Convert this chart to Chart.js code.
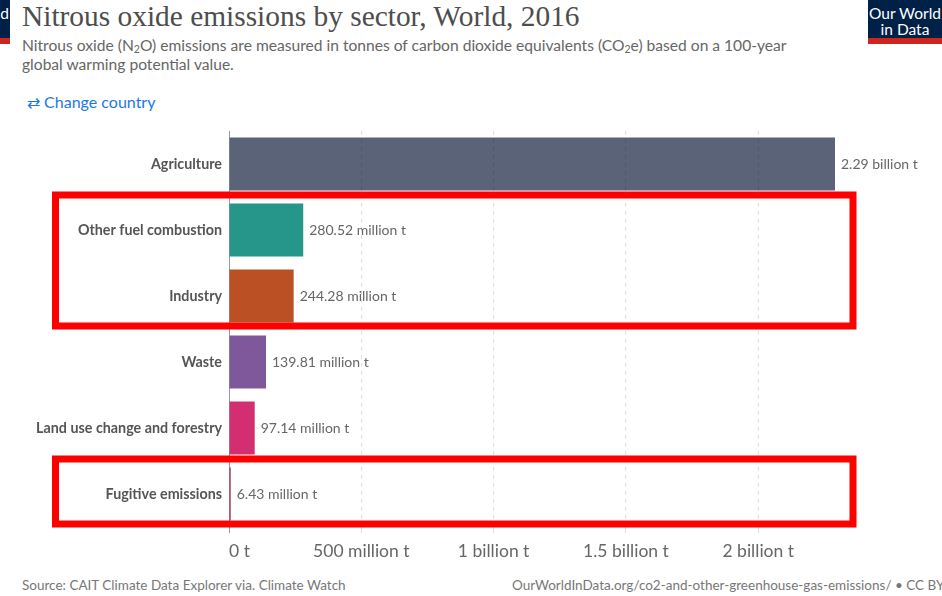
<!DOCTYPE html>
<html>
<head>
<meta charset="utf-8">
<title>Nitrous oxide emissions by sector</title>
<script src="https://cdn.jsdelivr.net/npm/chart.js@4.4.1/dist/chart.umd.min.js"></script>
<style>
  html, body { margin: 0; padding: 0; background: #fff; }
  body { width: 942px; height: 596px; position: relative; overflow: hidden; font-family: Lato, "Noto Sans", sans-serif; }
  .title { position: absolute; left: 22px; top: 0px; font-family: "Liberation Serif", "DejaVu Serif", serif; font-size: 29.4px; color: #4d4d4d; white-space: nowrap; }
  .subtitle { position: absolute; left: 22px; top: 36px; font-size: 15.6px; line-height: 19px; color: #666; width: 780px; }
  .subtitle sub { font-size: 10.5px; vertical-align: -2px; line-height: 0; }
  .change { position: absolute; left: 27px; top: 92px; font-size: 16px; color: #1a78e8; white-space: nowrap; }
  .logo { position: absolute; top: 0; width: 74px; background: #002147; border-bottom: 6px solid #ce261e; color: #fff; font-size: 15.5px; line-height: 16px; text-align: center; padding-top: 5px; box-sizing: border-box; height: 44px; }
  .logo.right { left: 868px; }
  .logo.left { left: -64px; }
  .footer { position: absolute; top: 577px; font-size: 13.5px; color: #777; white-space: nowrap; }
  #wrap { position: absolute; left: 0; top: 120px; width: 942px; height: 450px; }
</style>
</head>
<body>
<div class="logo left">Our World<br>in Data</div>
<div class="title">Nitrous oxide emissions by sector, World, 2016</div>
<div class="subtitle">Nitrous oxide (N<sub>2</sub>O) emissions are measured in tonnes of carbon dioxide equivalents (CO<sub>2</sub>e) based on a 100-year global warming potential value.</div>
<div class="change">&#8644; Change country</div>
<div class="logo right">Our World<br>in Data</div>
<div id="wrap"><canvas id="chart"></canvas></div>
<div class="footer" style="left:22px">Source: CAIT Climate Data Explorer via. Climate Watch</div>
<div class="footer" style="left:512px">OurWorldInData.org/co2-and-other-greenhouse-gas-emissions/ &bull; CC BY</div>

<script>
// sectors, top to bottom
const sectors = ['Agriculture', 'Other fuel combustion', 'Industry', 'Waste', 'Land use change and forestry', 'Fugitive emissions'];
// tonnes CO2e
const emissions = [2.29e9, 280.52e6, 244.28e6, 139.81e6, 97.14e6, 6.43e6];
const barColors = ['#5a6378', '#26968a', '#bb5025', '#7f579b', '#d42e73', '#a2334c'];

const tickValues = [0, 5e8, 1e9, 1.5e9, 2e9];
const tickLabels = ['0 t', '500 million t', '1 billion t', '1.5 billion t', '2 billion t'];

// rows boxed in red
const highlightGroups = [['Other fuel combustion', 'Industry'], ['Fugitive emissions']];

function formatValue(v) {
  if (v >= 1e9) return (v / 1e9).toFixed(2) + ' billion t';
  return (v / 1e6).toFixed(2) + ' million t';
}

// value text at the end of each bar
const valueLabels = {
  id: 'valueLabels',
  afterDatasetsDraw(chart) {
    const ctx = chart.ctx;
    const meta = chart.getDatasetMeta(0);
    ctx.save();
    ctx.font = '14px Lato';
    ctx.fillStyle = '#666';
    ctx.textAlign = 'left';
    ctx.textBaseline = 'middle';
    meta.data.forEach((bar, i) => {
      ctx.fillText(formatValue(emissions[i]), bar.x + 6, bar.y);
    });
    ctx.restore();
  }
};

// x tick labels: first one hangs off the zero line, the rest centred
const xTickText = {
  id: 'xTickText',
  afterDraw(chart) {
    const x = chart.scales.x;
    const ctx = chart.ctx;
    ctx.save();
    ctx.font = '17.5px Lato';
    ctx.fillStyle = '#666';
    ctx.textBaseline = 'middle';
    x.ticks.forEach((t, i) => {
      ctx.textAlign = i === 0 ? 'left' : 'center';
      ctx.fillText(tickLabels[i] || '', x.getPixelForValue(t.value), x.top + 24);
    });
    ctx.restore();
  }
};

// red outlines around groups of rows
const highlightBoxes = {
  id: 'highlightBoxes',
  afterDraw(chart) {
    const y = chart.scales.y;
    const x = chart.scales.x;
    const ctx = chart.ctx;
    const half = (y.getPixelForValue(1) - y.getPixelForValue(0)) / 2;
    ctx.save();
    ctx.strokeStyle = '#ff0000';
    ctx.lineWidth = 7;
    highlightGroups.forEach(group => {
      const idx = group.map(s => sectors.indexOf(s));
      const top = y.getPixelForValue(Math.min(...idx)) - half - 2;
      const bottom = y.getPixelForValue(Math.max(...idx)) + half - 3;
      const left = 55.5;
      const right = x.right + 18;
      ctx.strokeRect(left, top, right - left, bottom - top);
    });
    ctx.restore();
  }
};

new Chart(document.getElementById('chart'), {
  type: 'bar',
  data: {
    labels: sectors,
    datasets: [{
      data: emissions,
      backgroundColor: barColors,
      borderWidth: 0,
      barPercentage: 0.8,
      categoryPercentage: 1
    }]
  },
  options: {
    indexAxis: 'y',
    responsive: true,
    maintainAspectRatio: false,
    animation: false,
    layout: { padding: { top: 11, right: 107, bottom: 3, left: 0 } },
    plugins: {
      legend: { display: false },
      tooltip: { enabled: false }
    },
    scales: {
      x: {
        min: 0,
        max: Math.max(...emissions),
        afterBuildTicks(scale) {
          scale.ticks = tickValues.map(v => ({ value: v }));
        },
        afterFit(scale) { scale.height = 40; },
        ticks: {
          color: 'rgba(0,0,0,0)',
          autoSkip: false,
          font: { family: 'Lato', size: 16 },
          callback: (v, i) => tickLabels[i] || ''
        },
        // grid sits over the bars, faint enough to show through
        grid: {
          z: 1,
          color: ctx => ctx.index === 0 ? 'rgba(0,0,0,0)' : 'rgba(0,0,0,0.12)',
          tickColor: ctx => ctx.index === 0 ? '#999999' : '#dddddd',
          tickLength: 6
        },
        border: { display: false, dash: [4, 4] }
      },
      y: {
        afterFit(scale) {
          scale.width = 229;
          scale.paddingTop = 0;
          scale.paddingBottom = 0;
        },
        ticks: {
          color: '#555',
          padding: 7,
          font: { family: 'Lato', size: 14.3, weight: 'bold' }
        },
        grid: { display: false, drawTicks: false },
        border: { display: true, color: '#999999', width: 1 }
      }
    }
  },
  plugins: [valueLabels, xTickText, highlightBoxes]
});
</script>
</body>
</html>
